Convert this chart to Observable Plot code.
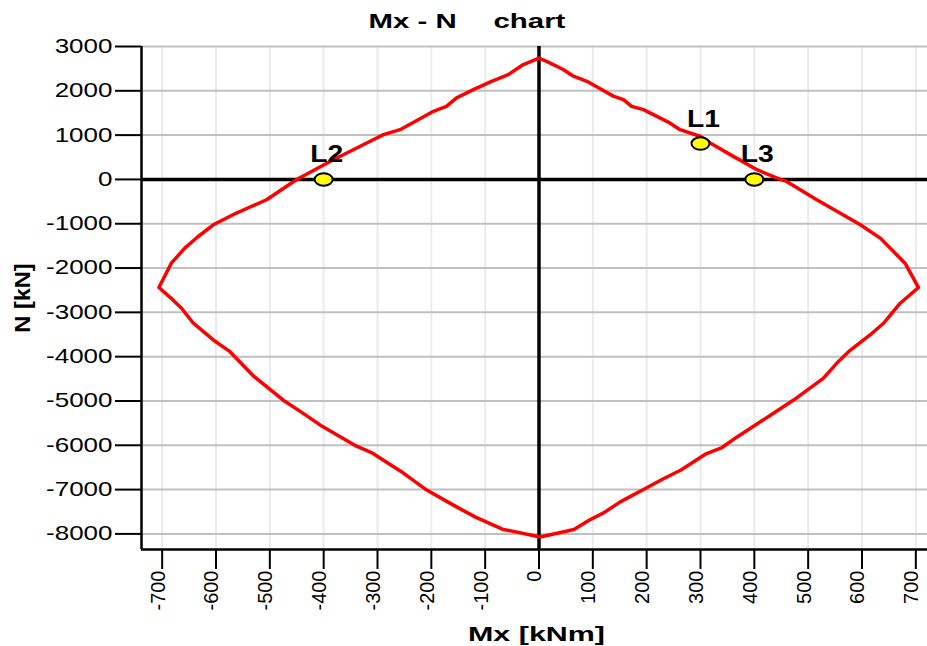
<!DOCTYPE html>
<html><head><meta charset="utf-8">
<script src="https://cdn.jsdelivr.net/npm/d3@7"></script>
<script src="https://cdn.jsdelivr.net/npm/@observablehq/plot@0.6"></script>
<style>
html,body{margin:0;padding:0;background:#fff;}
</style>
</head><body><div id="chart"></div>
<script>
// Interaction curve (Mx [kNm], N [kN]), traced as a closed loop
const mxValues = [0, 20, 45, 64, 89, 113, 138, 157, 172, 194, 243, 262, 299, 318, 361, 405, 448, 460, 516, 559, 597, 634, 680, 705,
  671, 640, 615, 578, 553, 528, 473, 430, 368, 340, 309, 263, 232, 201, 151, 120, 93, 65, 2,
  -68, -118, -159, -211, -257, -309, -339, -406, -438, -475, -530, -556, -574, -605, -642, -664, -680, -706,
  -683, -658, -633, -605, -562, -506, -450, -382, -320, -289, -258, -196, -172, -153, -122, -88, -57, -29, 0];
const nValues = [2740, 2630, 2480, 2330, 2215, 2050, 1880, 1800, 1650, 1575, 1275, 1123, 975, 823, 520, 219, 0, -45, -459, -759, -1024, -1325, -1890, -2440,
  -2794, -3246, -3510, -3857, -4150, -4489, -4979, -5322, -5811, -6051, -6202, -6563, -6750, -6953, -7278, -7526, -7691, -7901, -8070,
  -7893, -7622, -7351, -6990, -6584, -6178, -6020, -5546, -5279, -4982, -4441, -4113, -3887, -3623, -3245, -2907, -2719, -2440,
  -1890, -1550, -1288, -1024, -759, -459, 0, 445, 823, 1010, 1123, 1537, 1650, 1840, 2027, 2215, 2366, 2592, 2740];

// Load points
const pointNames = ["L1", "L2", "L3"];
const pointMx = [300, -400, 400];
const pointN = [810, 0, 0];

// Ticks
const xTickValues = [-700, -600, -500, -400, -300, -200, -100, 0, 100, 200, 300, 400, 500, 600, 700];
const yTickValues = [3000, 2000, 1000, 0, -1000, -2000, -3000, -4000, -5000, -6000, -7000, -8000];

const xDomain = [-738.4, 721.7];
const yDomain = [-8352, 3000];

const titleParts = ["Mx - N", "chart"];
const xLabel = "Mx [kNm]";
const yLabel = "N [kN]";

const curve = mxValues.map((m, i) => ({M: m, N: nValues[i]}));
const points = pointNames.map((name, i) => ({name, M: pointMx[i], N: pointN[i]}));

const ellipse = {
  draw(context) {
    const rx = 9, ry = 6.3, k = 0.5523;
    context.moveTo(rx, 0);
    context.bezierCurveTo(rx, ry * k, rx * k, ry, 0, ry);
    context.bezierCurveTo(-rx * k, ry, -rx, ry * k, -rx, 0);
    context.bezierCurveTo(-rx, -ry * k, -rx * k, -ry, 0, -ry);
    context.bezierCurveTo(rx * k, -ry, rx, -ry * k, rx, 0);
    context.closePath();
  }
};

const chart = Plot.plot({
  width: 927,
  height: 646,
  marginLeft: 141,
  marginRight: 0,
  marginTop: 46,
  marginBottom: 97,
  style: {fontFamily: "'Liberation Sans', Arial, sans-serif", background: "white", color: "black"},
  x: {domain: xDomain},
  y: {domain: yDomain},
  marks: [
    Plot.gridX(xTickValues, {stroke: "#ebebeb", strokeOpacity: 1, strokeWidth: 2}),
    Plot.gridY(yTickValues, {stroke: "#c0c0c0", strokeOpacity: 1, strokeWidth: 2}),
    Plot.ruleX([0], {stroke: "black", strokeWidth: 3.5}),
    Plot.ruleY([0], {stroke: "black", strokeWidth: 3.5}),
    Plot.ruleX([xDomain[0]], {stroke: "black", strokeWidth: 2.5}),
    Plot.ruleY([yDomain[0]], {stroke: "black", strokeWidth: 2.5}),
    Plot.axisY(yTickValues, {tickSize: 26, tickPadding: 3, strokeWidth: 2, fontSize: 20, tickFormat: d => String(d), label: null}),
    Plot.axisX(xTickValues, {tickSize: 20, fill: "none", strokeWidth: 2, label: null}),
    Plot.axisX(xTickValues, {tickSize: 20, stroke: "none", tickPadding: 1, tickRotate: -90, textAnchor: "end", fontSize: 20, dx: -4, tickFormat: d => String(d), label: null}),
    Plot.line(curve, {x: "M", y: "N", stroke: "#ff0000", strokeWidth: 3.5, strokeLinejoin: "round"}),
    Plot.dot(points, {x: "M", y: "N", symbol: ellipse, r: 5, fill: "#ffff00", stroke: "black", strokeWidth: 2}),
    Plot.text(points, {x: "M", y: "N", text: "name", dx: 3, dy: -17, lineAnchor: "bottom", fontSize: 23, fontWeight: "bold"}),
    Plot.text([titleParts[0]], {frameAnchor: "top-left", dx: 227, dy: -25, textAnchor: "start", lineAnchor: "middle", fontSize: 21, fontWeight: "bold"}),
    Plot.text([titleParts[1]], {frameAnchor: "top-left", dx: 352, dy: -25, textAnchor: "start", lineAnchor: "middle", fontSize: 21, fontWeight: "bold"}),
    Plot.text([yLabel], {frameAnchor: "left", dx: -118.5, rotate: -90, textAnchor: "middle", lineAnchor: "middle", fontSize: 22, fontWeight: "bold"}),
    Plot.text([xLabel], {frameAnchor: "bottom", dx: 2, dy: 91, fontSize: 21, fontWeight: "bold"})
  ]
});

document.getElementById("chart").append(chart);

const root = d3.select(chart);
function scaleX(el, s) {
  const t = el.getAttribute("transform");
  if (t) el.setAttribute("transform", t + ` scale(${s},1)`);
}
// widened lettering, as in the original
root.selectAll('g[aria-label="y-axis tick label"] text').each(function () { scaleX(this, 1.3); });
root.selectAll("text").each(function () {
  const s = this.textContent;
  if (titleParts.includes(s)) scaleX(this, 1.4);
  else if (s === xLabel) scaleX(this, 1.45);
  else if (s === yLabel) scaleX(this, 1.07);
  else if (pointNames.includes(s)) scaleX(this, 1.23);
});
</script>
</body></html>
